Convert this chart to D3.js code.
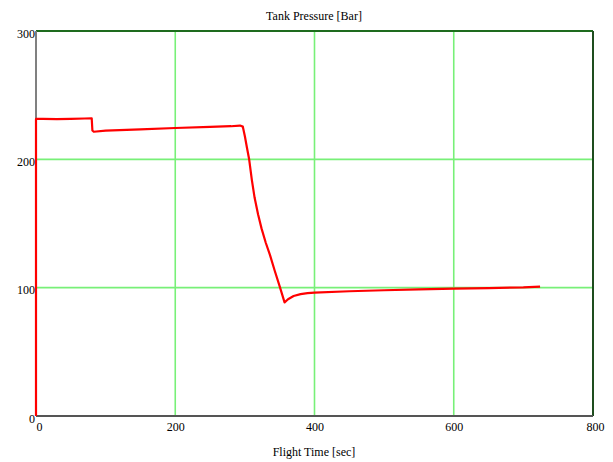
<!DOCTYPE html>
<html>
<head>
<meta charset="utf-8">
<script src="https://cdn.jsdelivr.net/npm/d3@7"></script>
<style>
  body { margin: 0; background: #fff; }
  text { font-family: "Liberation Serif", "Times New Roman", serif; }
</style>
</head>
<body>
<svg id="chart" width="613" height="462"></svg>
<script>
// данные
const flightTime = [0, 0, 10, 30, 50, 70, 80, 81, 83, 100, 150, 200, 250, 280, 293, 297,
    300, 303, 306, 310, 314, 319, 324, 330, 336, 343, 350, 357, 362, 370, 380, 390, 400,
    450, 500, 550, 600, 650, 700, 724];
const tankPressure = [0, 231.5, 231.5, 231.3, 231.6, 231.8, 232, 222.5, 221.5, 222.3, 223.4, 224.4, 225.3, 225.8, 226.3, 225.5,
    218, 209, 200.5, 184, 170, 157, 146, 135, 125.5, 113, 101, 88.5, 91, 93.5, 95, 95.8, 96.2,
    97.2, 98, 98.7, 99.2, 99.7, 100.2, 100.8];
const xTicks = [0, 200, 400, 600, 800];
const yTicks = [0, 100, 200, 300];

const svg = d3.select("#chart");
const area = { left: 36, right: 593, top: 31, bottom: 416 };

const scaleX = d3.scaleLinear().domain([0, 800]).range([area.left, area.right]);
const scaleY = d3.scaleLinear().domain([0, 300]).range([area.bottom, area.top]);

// сетка
svg.append("g")
    .selectAll("line")
    .data(xTicks.filter(d => d > 0 && d < 800))
    .join("line")
    .attr("x1", d => scaleX(d)).attr("x2", d => scaleX(d))
    .attr("y1", area.top).attr("y2", area.bottom)
    .attr("stroke", "#78f078").attr("stroke-width", 1.6);

svg.append("g")
    .selectAll("line")
    .data(yTicks.filter(d => d > 0 && d < 300))
    .join("line")
    .attr("x1", area.left).attr("x2", area.right)
    .attr("y1", d => scaleY(d)).attr("y2", d => scaleY(d))
    .attr("stroke", "#78f078").attr("stroke-width", 1.6);

// рамка
svg.append("line")
    .attr("x1", area.left).attr("x2", area.right)
    .attr("y1", area.top).attr("y2", area.top)
    .attr("stroke", "#1e6b1e").attr("stroke-width", 2);
svg.append("line")
    .attr("x1", area.right).attr("x2", area.right)
    .attr("y1", area.top).attr("y2", area.bottom)
    .attr("stroke", "#1e4d1e").attr("stroke-width", 2);
svg.append("line")
    .attr("x1", area.left).attr("x2", area.left)
    .attr("y1", area.top).attr("y2", area.bottom)
    .attr("stroke", "#808080").attr("stroke-width", 2);
svg.append("line")
    .attr("x1", area.left).attr("x2", area.right)
    .attr("y1", area.bottom).attr("y2", area.bottom)
    .attr("stroke", "#555").attr("stroke-width", 2);

// оси
const axisX = d3.axisBottom(scaleX).tickValues(xTicks).tickSize(0).tickPadding(6);
const axisY = d3.axisLeft(scaleY).tickValues(yTicks).tickSize(0).tickPadding(1);

const gx = svg.append("g")
    .attr("transform", `translate(0, ${area.bottom})`)
    .call(axisX);
gx.select(".domain").remove();
gx.selectAll("text").attr("font-size", 12).attr("fill", "#000")
    .attr("font-family", "Liberation Serif, serif")
    .attr("dx", d => d === 0 ? 3 : (d === 800 ? 2 : 0));

const gy = svg.append("g")
    .attr("transform", `translate(${area.left}, 0)`)
    .call(axisY);
gy.select(".domain").remove();
gy.selectAll("text").attr("font-size", 12).attr("fill", "#000")
    .attr("font-family", "Liberation Serif, serif")
    .attr("dy", "0.5em");

// линия давления
const lineGenerator = d3.line()
    .x((d, i) => scaleX(flightTime[i]))
    .y(d => scaleY(d));

svg.append("path")
    .datum(tankPressure)
    .attr("fill", "none")
    .attr("stroke", "#ff0000")
    .attr("stroke-width", 2.2)
    .attr("stroke-linejoin", "round")
    .attr("d", lineGenerator);

// подписи
svg.append("text")
    .attr("x", 314).attr("y", 20)
    .attr("text-anchor", "middle")
    .attr("font-size", 12)
    .text("Tank Pressure [Bar]");

svg.append("text")
    .attr("x", 314).attr("y", 456)
    .attr("text-anchor", "middle")
    .attr("font-size", 12)
    .text("Flight Time [sec]");
</script>
</body>
</html>
